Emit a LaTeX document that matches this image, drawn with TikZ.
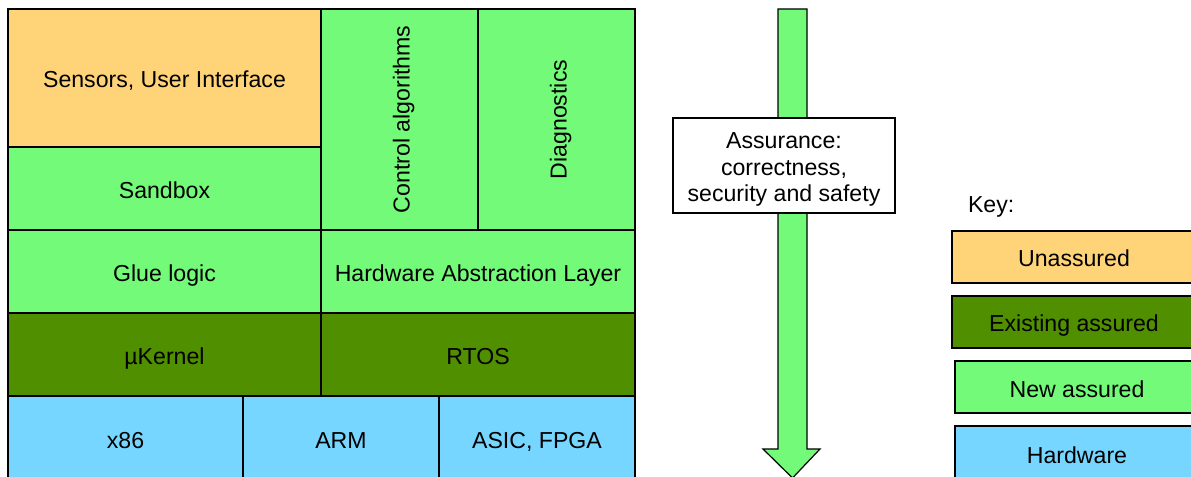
\documentclass[tikz,border=0pt]{standalone}
\usepackage{fontspec}
\setmainfont{Liberation Sans}
\definecolor{cantaloupe}{HTML}{FFD479}
\definecolor{flora}{HTML}{73FA79}
\definecolor{clover}{HTML}{4F8F00}
\definecolor{sky}{HTML}{76D6FF}
\begin{document}
\begin{tikzpicture}[x=1bp,y=-1bp,
  txt/.style={font=\fontsize{23.2}{26.5}\selectfont,inner sep=0pt,outer sep=0pt},
  line/.style={txt,text height=23bp,text depth=3bp},
  cell/.style={line,draw=black,line width=1.2bp},
  unassured/.style={cell,fill=cantaloupe},
  existing/.style={cell,fill=clover},
  newassured/.style={cell,fill=flora},
  hardware/.style={cell,fill=sky},
  sz/.style 2 args={minimum width=#1bp,minimum height=#2bp}]
\useasboundingbox (0,0) rectangle (1191,477);
\clip (0,0) rectangle (1191,477);

% software / hardware stack
\node[unassured,sz={313}{138}] (sensors) at (164.5,78) {Sensors, User Interface};
\node[newassured,sz={313}{83}] (sandbox) at (164.5,188.5) {Sandbox};
\node[newassured,sz={157}{221}] (control) at (399.5,119.5) {};
\node[line,rotate=90] (controlt) at (control.center) {Control algorithms};
\node[newassured,sz={157}{221}] (diag) at (556.5,119.5) {};
\node[line,rotate=90] (diagt) at (diag.center) {Diagnostics};
\node[newassured,sz={313}{83}] (glue) at (164.5,271.5) {Glue logic};
\node[newassured,sz={314}{83}] (hal) at (478,271.5) {Hardware Abstraction Layer};
\node[existing,sz={313}{83}] (kernel) at (164.5,354.5) {µKernel};
\node[existing,sz={314}{83}] (rtos) at (478,354.5) {RTOS};
\node[hardware,sz={235}{84}] (x86) at (125.5,438) {x86};
\node[hardware,sz={196}{84}] (arm) at (341,438) {ARM};
\node[hardware,sz={196}{84}] (asic) at (537,438) {ASIC, FPGA};

% assurance arrow
\draw[line width=1.2bp,fill=flora] (778,9) -- (807,9) -- (807,449) -- (820,449)
  -- (792.5,478) -- (763,449) -- (778,449) -- cycle;
\node[draw=black,line width=1.2bp,fill=white,inner sep=0pt,sz={222}{95}] (assure) at (784,165.5) {};
\node[txt,align=center] (assuret) at ([yshift=-4bp]assure.center)
  {Assurance:\\correctness,\\security and safety};

% key
\node[txt,anchor=west] (key) at (968,207) {Key:};
\node[unassured,sz={244}{52}] (k1) at (1074,257) {Unassured};
\node[existing,sz={244}{52}] (k2) at (1074,322) {Existing assured};
\node[newassured,sz={244}{52}] (k3) at (1077,387) {New assured};
\node[hardware,sz={244}{54}] (k4) at (1077,453) {Hardware};
\end{tikzpicture}
\end{document}
